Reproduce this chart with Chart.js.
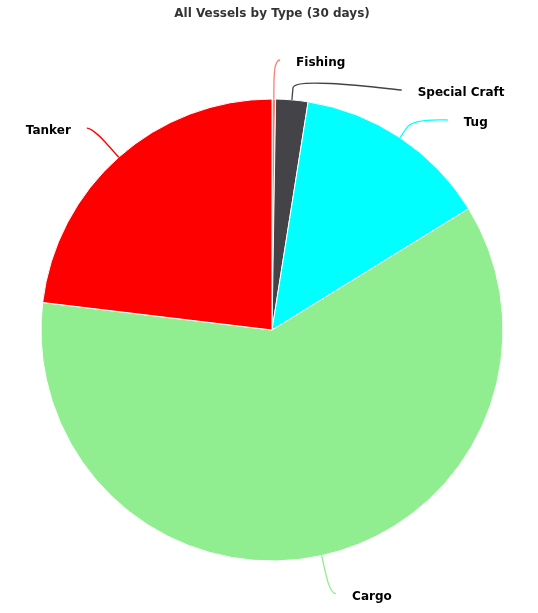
<!DOCTYPE html>
<html>
<head>
<meta charset="utf-8">
<script src="https://cdn.jsdelivr.net/npm/chart.js@4/dist/chart.umd.min.js"></script>
<style>
  html, body { margin: 0; padding: 0; background: #ffffff; }
  #c { display: block; }
</style>
</head>
<body>
<canvas id="c" width="538" height="613"></canvas>
<script>
// ---- data ----
const categories = ["Fishing", "Special Craft", "Tug", "Cargo", "Tanker"];
const shares = [0.25, 2.25, 13.7, 60.7, 23.1];   // % of vessels (30 days)
const sliceColors = ["#FA8072", "#434348", "#00FFFF", "#90EE90", "#FF0000"];
const chartTitle = "All Vessels by Type (30 days)";

// ---- label layout (Highcharts-like data labels with soft connectors) ----
const LABEL_DIST = 39, BREAK_DIST = 12, MIN_GAP = 30, TEXT_PAD = 22;
const labelFont = "bold 12px 'DejaVu Sans', Verdana, sans-serif";

const pieLabels = {
  id: 'pieLabels',
  afterDatasetsDraw(chart) {
    const ctx = chart.ctx;
    const meta = chart.getDatasetMeta(0);
    const items = [];
    meta.data.forEach((arc, i) => {
      const p = arc.getProps(['x', 'y', 'startAngle', 'endAngle', 'outerRadius'], true);
      const mid = (p.startAngle + p.endAngle) / 2;
      const R = p.outerRadius;
      const cx = p.x, cy = p.y;
      const c = Math.cos(mid), s = Math.sin(mid);
      items.push({
        i, cx, cy, R, c, s,
        left: c < 0,
        ly: cy + (R + LABEL_DIST) * s,
        E: { x: cx + R * c, y: cy + R * s },
        B: { x: cx + (R + BREAK_DIST) * c, y: cy + (R + BREAK_DIST) * s }
      });
    });
    // resolve vertical overlaps per side
    [true, false].forEach(side => {
      const arr = items.filter(it => it.left === side).sort((a, b) => a.ly - b.ly);
      for (let k = 1; k < arr.length; k++) {
        if (arr[k].ly < arr[k - 1].ly + MIN_GAP) arr[k].ly = arr[k - 1].ly + MIN_GAP;
      }
    });
    ctx.save();
    ctx.font = labelFont;
    ctx.textBaseline = 'middle';
    items.forEach(it => {
      const rl = it.R + LABEL_DIST;
      const dy = Math.max(-rl, Math.min(rl, it.ly - it.cy));
      const off = Math.sqrt(rl * rl - dy * dy);
      const sign = it.left ? -1 : 1;
      const lx = it.cx + sign * off;
      // connector
      ctx.beginPath();
      ctx.strokeStyle = sliceColors[it.i];
      ctx.lineWidth = 1.3;
      ctx.moveTo(lx + sign * 6, it.ly);
      ctx.bezierCurveTo(lx, it.ly, 2 * it.B.x - it.E.x, 2 * it.B.y - it.E.y, it.B.x, it.B.y);
      ctx.lineTo(it.E.x, it.E.y);
      ctx.stroke();
      // text
      ctx.fillStyle = '#000000';
      ctx.textAlign = it.left ? 'right' : 'left';
      ctx.fillText(categories[it.i], lx + sign * TEXT_PAD, it.ly + 3);
    });
    ctx.restore();
  }
};

new Chart(document.getElementById('c'), {
  type: 'pie',
  data: {
    labels: categories,
    datasets: [{
      data: shares,
      backgroundColor: sliceColors,
      borderColor: '#ffffff',
      borderWidth: 1
    }]
  },
  options: {
    responsive: false,
    animation: false,
    devicePixelRatio: 1,
    layout: { padding: { top: 0, bottom: 51.5, left: 6, right: 0 } },
    plugins: {
      legend: { display: false },
      tooltip: { enabled: false },
      title: {
        display: true,
        text: chartTitle,
        color: '#333333',
        font: { family: "'DejaVu Sans', Verdana, sans-serif", size: 12, weight: 'bold', lineHeight: 1.2 },
        padding: { top: 7, bottom: 77.1 }
      }
    }
  },
  plugins: [pieLabels]
});
</script>
</body>
</html>
